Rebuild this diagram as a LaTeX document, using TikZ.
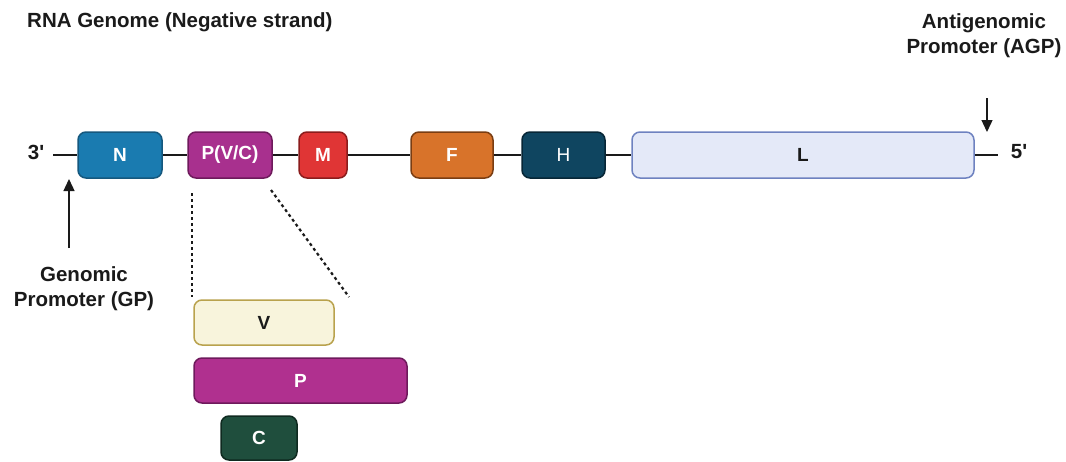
\documentclass[tikz,border=0pt]{standalone}
\usepackage{fontspec}
\setmainfont{Liberation Sans}
\newfontfamily\pf{Liberation Sans}
\usetikzlibrary{arrows.meta}
\definecolor{nblue}{HTML}{1A7BB0}
\definecolor{nblueD}{HTML}{15587E}
\definecolor{pvc}{HTML}{A8308E}
\definecolor{pvcD}{HTML}{6E1A5C}
\definecolor{mred}{HTML}{E03535}
\definecolor{mredD}{HTML}{8B1C1C}
\definecolor{forange}{HTML}{D8732A}
\definecolor{forangeD}{HTML}{7A3D12}
\definecolor{hnavy}{HTML}{0F4560}
\definecolor{hnavyD}{HTML}{072636}
\definecolor{llav}{HTML}{E4E9F8}
\definecolor{llavD}{HTML}{6E82C0}
\definecolor{vcream}{HTML}{F8F4DC}
\definecolor{vcreamD}{HTML}{B9A24D}
\definecolor{pmag}{HTML}{B0308F}
\definecolor{cgreen}{HTML}{1F4E3D}
\definecolor{cgreenD}{HTML}{0F2A20}
\definecolor{txt}{HTML}{1A1A1A}
\tikzset{
  gene/.style={draw, line width=1.5pt, rounded corners=8pt, minimum height=46pt, inner sep=0pt, font=\bfseries\fontsize{19}{22}\selectfont, text=white},
  lbl/.style={font=\bfseries\fontsize{20.5}{25}\selectfont, text=txt, align=center, inner sep=0pt},
  bb/.style={line width=1.5pt, draw=txt},
  dsh/.style={line width=2.2pt, draw=txt, dash pattern=on 3pt off 3pt},
  arr/.style={line width=1.3pt, draw=txt, -{Triangle[length=12pt,width=11pt]}}
}
\begin{document}
\begin{tikzpicture}[x=1pt,y=-1pt]
\useasboundingbox (0,0) rectangle (1066,461);
% title
\node[lbl, anchor=west] (title) at (27,22) {RNA Genome (Negative strand)};
\node[lbl] (agp) at (984,36) {Antigenomic\\Promoter (AGP)};
% ends
\node[lbl, font=\pf\bfseries\fontsize{20.5}{25}\selectfont] (three) at (36,152) {3'};
\node[lbl, font=\pf\bfseries\fontsize{20.5}{25}\selectfont] (five) at (1019,152) {5'};
% genes
\node[gene, fill=nblue, draw=nblueD, minimum width=84pt] (N) at (120,155) {N};
\node[gene, fill=pvc, draw=pvcD, minimum width=84pt] (PVC) at (230,155) {P(V/C)};
\node[gene, fill=mred, draw=mredD, minimum width=48pt] (M) at (323,155) {M};
\node[gene, fill=forange, draw=forangeD, minimum width=82pt] (F) at (452,155) {F};
\node[gene, fill=hnavy, draw=hnavyD, minimum width=83pt, font=\fontsize{19}{22}\selectfont] (H) at (563.5,155) {H};
\node[gene, fill=llav, draw=llavD, minimum width=342pt, text=txt] (L) at (803,155) {L};
% backbone
\coordinate (s3) at (53,155);
\draw[bb] (s3) -- (N.west);
\draw[bb] (N.east) -- (PVC.west);
\draw[bb] (PVC.east) -- (M.west);
\draw[bb] (M.east) -- (F.west);
\draw[bb] (F.east) -- (H.west);
\draw[bb] (H.east) -- (L.west);
\coordinate (e5) at (998,155);
\draw[bb] (L.east) -- (e5);
% promoters
\node[lbl] (gp) at (84,289) {Genomic\\Promoter (GP)};
\coordinate (gpTip) at (69,179);
\coordinate (gpTail) at (69,248);
\draw[arr] (gpTail) -- (gpTip);
\coordinate (agpTip) at (987,132);
\coordinate (agpTail) at (987,98);
\draw[arr] (agpTail) -- (agpTip);
% expansion
\node[gene, fill=vcream, draw=vcreamD, minimum width=140pt, minimum height=45pt, text=txt] (V) at (264,322.5) {V};
\node[gene, fill=pmag, draw=pvcD, minimum width=213pt, minimum height=45pt] (P) at (300.5,380.5) {P};
\node[gene, fill=cgreen, draw=cgreenD, minimum width=76pt, minimum height=44pt] (C) at (259,438) {C};
\coordinate (d1a) at (192,193);
\coordinate (d1b) at (192,297);
\coordinate (d2a) at (271,190);
\coordinate (d2b) at (349,297);
\draw[dsh] (d1a) -- (d1b);
\draw[dsh] (d2a) -- (d2b);
\end{tikzpicture}
\end{document}
